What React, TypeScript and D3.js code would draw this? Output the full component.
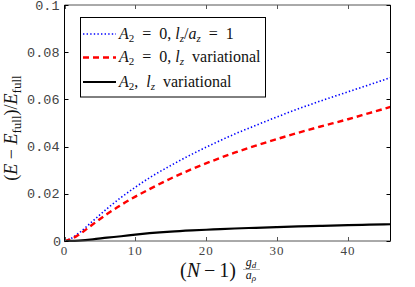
import React, { useRef, useEffect } from 'react';
import * as d3 from 'd3';

// x = (N-1) g_d / a_rho
const xs: number[] = [0, 1, 2, 4, 6, 8, 10, 12, 15, 18, 21, 24, 27, 30, 33, 36, 40, 43, 46];

// A2 = 0, lz/az = 1
const fixedWidth: number[] = [0, 0.0012, 0.0033, 0.0085, 0.0137, 0.0185, 0.0228, 0.0268, 0.032, 0.0368, 0.0412, 0.0453, 0.049, 0.0526, 0.056, 0.0592, 0.0632, 0.0662, 0.0692];
// A2 = 0, lz variational
const lzVariational: number[] = [0, 0.0009, 0.0026, 0.0071, 0.0114, 0.0153, 0.0188, 0.022, 0.0265, 0.0305, 0.0341, 0.0374, 0.0404, 0.0432, 0.0459, 0.0484, 0.0516, 0.0542, 0.0568];
// A2, lz variational
const fullVariational: number[] = [0, 0.00005, 0.0002, 0.0007, 0.0014, 0.002, 0.0027, 0.0033, 0.004, 0.0045, 0.0049, 0.0053, 0.0056, 0.0059, 0.0062, 0.0064, 0.0067, 0.0069, 0.0071];

const xTicks: number[] = [0, 10, 20, 30, 40];
const yTicks: number[] = [0, 0.02, 0.04, 0.06, 0.08, 0.1];
const yTickLabels: string[] = ['0', '0.02', '0.04', '0.06', '0.08', '0.1'];

const SERIF = "'Liberation Serif', 'DejaVu Serif', serif";
const MONO = "'Liberation Mono', 'DejaVu Sans Mono', monospace";
const EN = '\u2002';

const Chart: React.FC = () => {
  const svgRef = useRef<SVGSVGElement | null>(null);

  useEffect(() => {
    if (!svgRef.current) return;
    const svg = d3.select(svgRef.current);
    svg.selectAll('*').remove();

    const x = d3.scaleLinear().domain([0, 46]).range([64.5, 390.5]);
    const y = d3.scaleLinear().domain([0, 0.1]).range([241, 5]);

    const series = [
      { values: fixedWidth, color: '#0000ff', width: 1.6, dash: '1.4,2.2' },
      { values: lzVariational, color: '#ff0000', width: 2.4, dash: '6,4' },
      { values: fullVariational, color: '#000000', width: 2.2, dash: null as string | null },
    ];

    const line = d3.line<number>()
      .x((_, i) => x(xs[i]))
      .y(d => y(d))
      .curve(d3.curveMonotoneX);

    const plot = svg.append('g');
    series.forEach(s => {
      plot.append('path')
        .datum(s.values)
        .attr('fill', 'none')
        .attr('stroke', s.color)
        .attr('stroke-width', s.width)
        .attr('stroke-dasharray', s.dash)
        .attr('d', line);
    });

    // box
    const box = svg.append('g').attr('stroke', '#000').attr('stroke-width', 1).attr('fill', 'none');
    box.append('line').attr('x1', 64.5).attr('x2', 64.5).attr('y1', 5).attr('y2', 241);
    box.append('line').attr('x1', 390.5).attr('x2', 390.5).attr('y1', 5).attr('y2', 241);
    box.append('line').attr('x1', 64.5).attr('x2', 390.5).attr('y1', 5).attr('y2', 5).attr('stroke', '#555');
    box.append('line').attr('x1', 64.5).attr('x2', 390.5).attr('y1', 241).attr('y2', 241).attr('stroke', '#555');

    // inward ticks
    xTicks.forEach(t => {
      const px = Math.round(x(t)) + 0.5;
      box.append('line').attr('x1', px).attr('x2', px).attr('y1', 241).attr('y2', 237).attr('stroke', '#555');
      box.append('line').attr('x1', px).attr('x2', px).attr('y1', 5).attr('y2', 9).attr('stroke', '#555');
    });
    yTicks.forEach(t => {
      const py = Math.round(y(t)) + 0.5;
      box.append('line').attr('x1', 64.5).attr('x2', 68.5).attr('y1', py).attr('y2', py);
      box.append('line').attr('x1', 390.5).attr('x2', 386.5).attr('y1', py).attr('y2', py);
    });

    // tick labels
    svg.append('g')
      .selectAll('text')
      .data(xTicks)
      .join('text')
      .attr('x', d => x(d))
      .attr('y', 255)
      .attr('text-anchor', 'middle')
      .attr('font-family', SERIF)
      .attr('font-size', 13)
      .attr('letter-spacing', 1)
      .attr('fill', '#444')
      .text(d => String(d));

    svg.append('g')
      .selectAll('text')
      .data(yTicks)
      .join('text')
      .attr('x', d => (d === 0 ? 61 : 59.5))
      .attr('y', d => y(d) + 4.5)
      .attr('text-anchor', 'end')
      .attr('font-family', MONO)
      .attr('font-size', 13.5)
      .attr('fill', '#444')
      .text((_, i) => yTickLabels[i]);

    // legend
    const legend = svg.append('g');
    legend.append('rect')
      .attr('x', 80.5).attr('y', 17.5).attr('width', 185).attr('height', 79.5)
      .attr('fill', '#fff').attr('stroke', '#000').attr('stroke-width', 1);
    const labels = [
      [['A', 'i'], ['2', 'sub'], [EN + '=' + EN + '0, ', ''], ['l', 'i'], ['z', 'subi'], ['/', ''], ['a', 'i'], ['z', 'subi'], [EN + '=' + EN + '1', '']],
      [['A', 'i'], ['2', 'sub'], [EN + '=' + EN + '0, ', ''], ['l', 'i'], ['z', 'subi'], ['  variational', '']],
      [['A', 'i'], ['2', 'sub'], [',  ', ''], ['l', 'i'], ['z', 'subi'], ['  variational', '']],
    ];
    const rows = [34, 57.5, 82];
    series.forEach((s, i) => {
      legend.append('line')
        .attr('x1', 83).attr('x2', 116)
        .attr('y1', rows[i]).attr('y2', rows[i])
        .attr('stroke', s.color)
        .attr('stroke-width', s.width)
        .attr('stroke-dasharray', s.dash);
      const t = legend.append('text')
        .attr('x', 119).attr('y', rows[i] + 4.5)
        .attr('font-family', SERIF)
        .attr('font-size', 16)
        .attr('xml:space', 'preserve')
        .style('white-space', 'pre')
        .attr('fill', '#111');
      let inSub = false;
      labels[i].forEach(([str, kind]) => {
        const sp = t.append('tspan').text(str);
        if (kind === 'i' || kind === 'subi') sp.attr('font-style', 'italic');
        const isSub = kind === 'sub' || kind === 'subi';
        if (isSub) sp.attr('font-size', 11);
        if (isSub && !inSub) sp.attr('dy', 3);
        if (!isSub && inSub) sp.attr('dy', -3);
        inSub = isSub;
      });
    });

    // y label
    const yl = svg.append('text')
      .attr('transform', 'translate(17,128) rotate(-90)')
      .attr('text-anchor', 'middle')
      .attr('font-family', SERIF)
      .attr('font-size', 18)
      .attr('fill', '#111');
    yl.append('tspan').text('(');
    yl.append('tspan').attr('font-style', 'italic').text('E');
    yl.append('tspan').text(' − ');
    yl.append('tspan').attr('font-style', 'italic').text('E');
    yl.append('tspan').attr('font-size', 13).attr('dy', 4).text('full');
    yl.append('tspan').attr('dy', -4).text(')/');
    yl.append('tspan').attr('font-style', 'italic').text('E');
    yl.append('tspan').attr('font-size', 13).attr('dy', 4).text('full');

    // x label
    const xl = svg.append('text')
      .attr('x', 180).attr('y', 277)
      .attr('font-family', SERIF)
      .attr('font-size', 20)
      .attr('fill', '#111');
    xl.append('tspan').text('(');
    xl.append('tspan').attr('font-style', 'italic').text('N');
    xl.append('tspan').text('\u2009−\u20091)');
    const num = svg.append('text')
      .attr('x', 251).attr('y', 266)
      .attr('text-anchor', 'middle')
      .attr('font-family', SERIF)
      .attr('font-size', 12)
      .attr('font-style', 'italic')
      .attr('fill', '#111');
    num.append('tspan').text('g');
    num.append('tspan').attr('font-size', 9).attr('dy', 2).text('d');
    svg.append('line').attr('x1', 243).attr('x2', 260).attr('y1', 269.5).attr('y2', 269.5)
      .attr('stroke', '#888').attr('stroke-width', 0.6);
    const den = svg.append('text')
      .attr('x', 251).attr('y', 279)
      .attr('text-anchor', 'middle')
      .attr('font-family', SERIF)
      .attr('font-size', 12)
      .attr('font-style', 'italic')
      .attr('fill', '#111');
    den.append('tspan').text('a');
    den.append('tspan').attr('font-size', 9).attr('dy', 2).text('ρ');
  }, []);

  return (
    <svg ref={svgRef} width={415} height={287}
      style={{ position: 'absolute', left: 0, top: 0, background: '#fff' }} />
  );
};

export default function App() {
  return <Chart />;
}
